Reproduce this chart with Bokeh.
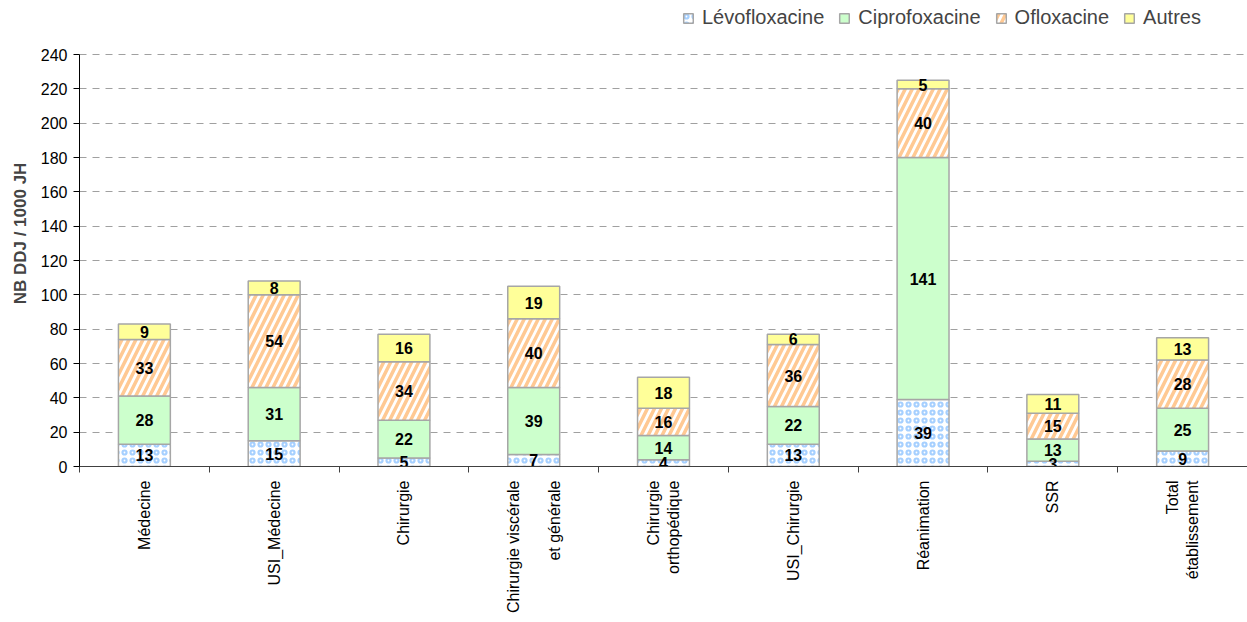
import math
from bokeh.plotting import figure
from bokeh.models import (Range1d, FixedTicker, CustomJSTickFormatter, Legend, LegendItem,
                          ColumnDataSource)
from bokeh.core.properties import value
from bokeh.embed import file_html
from bokeh.resources import INLINE

categories = ["Médecine", "USI_Médecine", "Chirurgie", "Chirurgie viscérale\n\net générale",
              "Chirurgie\northopédique", "USI_Chirurgie", "Réanimation", "SSR",
              "Total\nétablissement"]
series_names = ["Lévofloxacine", "Ciprofoxacine", "Ofloxacine", "Autres"]
levo = [13, 15, 5, 7, 4, 13, 39, 3, 9]
cipro = [28, 31, 22, 39, 14, 22, 141, 13, 25]
oflo = [33, 54, 34, 40, 16, 36, 40, 15, 28]
autres = [9, 8, 16, 19, 18, 6, 5, 11, 13]
y_ticks = list(range(0, 241, 20))
y_max = 240

FONT = "Liberation Sans"

n = len(categories)
xs = [i + 0.5 for i in range(n)]
src = ColumnDataSource(dict(x=xs, s0=levo, s1=cipro, s2=oflo, s3=autres))

# frame spans the full height above the x axis; the top 54px hold the legend
frame_h = 466
top_room = 54
y_end = y_max * frame_h / (frame_h - top_room)

p = figure(width=1247, height=622, x_range=Range1d(0, n), y_range=Range1d(0, y_end),
           output_backend="svg", toolbar_location=None,
           min_border_left=79, min_border_right=0, min_border_top=0, min_border_bottom=156)
p.outline_line_color = None
p.background_fill_color = "white"

fills = ["white", "#CCFFCC", "white", "#FFFF99"]
hatches = ["ring", " ", "right_diagonal_line", " "]
hatch_colors = ["#A6D0FF", "#A6D0FF", "#FFC993", "#FFC993"]
hatch_weights = [2.2, 1, 3.5, 1]
hatch_scales = [8, 12, 14, 12]
renderers = p.vbar_stack(["s0", "s1", "s2", "s3"], x="x", width=0.4, source=src,
                         fill_color=fills, line_color="#A6A6A6", line_width=1.5,
                         hatch_pattern=hatches, hatch_color=hatch_colors,
                         hatch_weight=hatch_weights, hatch_scale=hatch_scales)

# value labels at middle of each segment
series = [levo, cipro, oflo, autres]
lx, ly, lt = [], [], []
for i in range(n):
    base = 0
    for s in series:
        v = s[i]
        lx.append(xs[i]); ly.append(base + v / 2); lt.append(str(v))
        base += v
p.text(lx, ly, text=lt, text_font=value(FONT), text_font_style="bold", text_font_size="16px",
       text_align="center", text_baseline="middle", text_color="black")

# y axis
p.yaxis.ticker = FixedTicker(ticks=y_ticks)
p.yaxis.bounds = (0, y_max)
p.yaxis.axis_label = "NB DDJ / 1000 JH"
p.yaxis.axis_label_text_font = FONT
p.yaxis.axis_label_text_font_style = "bold"
p.yaxis.axis_label_text_font_size = "17px"
p.yaxis.axis_label_standoff = 8
p.yaxis.major_label_text_font = FONT
p.yaxis.major_label_text_font_size = "16px"
p.yaxis.major_label_text_color = "black"
p.yaxis.major_tick_out = 6
p.yaxis.major_tick_in = 0
p.yaxis.minor_tick_out = 0
p.yaxis.minor_tick_in = 0
p.yaxis.axis_line_color = "black"
p.yaxis.major_tick_line_color = "black"
p.yaxis.major_label_standoff = 6

# x axis
p.xaxis.ticker = FixedTicker(ticks=xs, minor_ticks=list(range(0, n + 1)))
p.xaxis.formatter = CustomJSTickFormatter(args=dict(labels=categories),
                                          code="return labels[Math.floor(tick)];")
p.xaxis.major_label_orientation = math.pi / 2
p.xaxis.major_label_text_font = FONT
p.xaxis.major_label_text_font_size = "16px"
p.xaxis.major_label_text_color = "black"
p.xaxis.major_label_standoff = 8
p.xaxis.major_tick_out = 0
p.xaxis.major_tick_in = 0
p.xaxis.minor_tick_out = 6
p.xaxis.minor_tick_in = 0
p.xaxis.axis_line_color = "#404040"
p.xaxis.minor_tick_line_color = "#404040"

p.xgrid.grid_line_color = None
p.ygrid.ticker = FixedTicker(ticks=y_ticks[1:])
p.ygrid.grid_line_color = "#A0A0A0"
p.ygrid.grid_line_dash = "7 6"
p.ygrid.grid_line_width = 1

legend = Legend(items=[LegendItem(label=nm, renderers=[r]) for nm, r in zip(series_names, renderers)],
                orientation="horizontal", location=(603, 437),
                label_text_font=FONT, label_text_font_size="20px",
                glyph_width=12, glyph_height=12, label_standoff=8, spacing=14,
                padding=0, margin=0, border_line_color=None, background_fill_alpha=0)
p.add_layout(legend, "center")

open("out.html", "w").write(file_html(p, INLINE))
